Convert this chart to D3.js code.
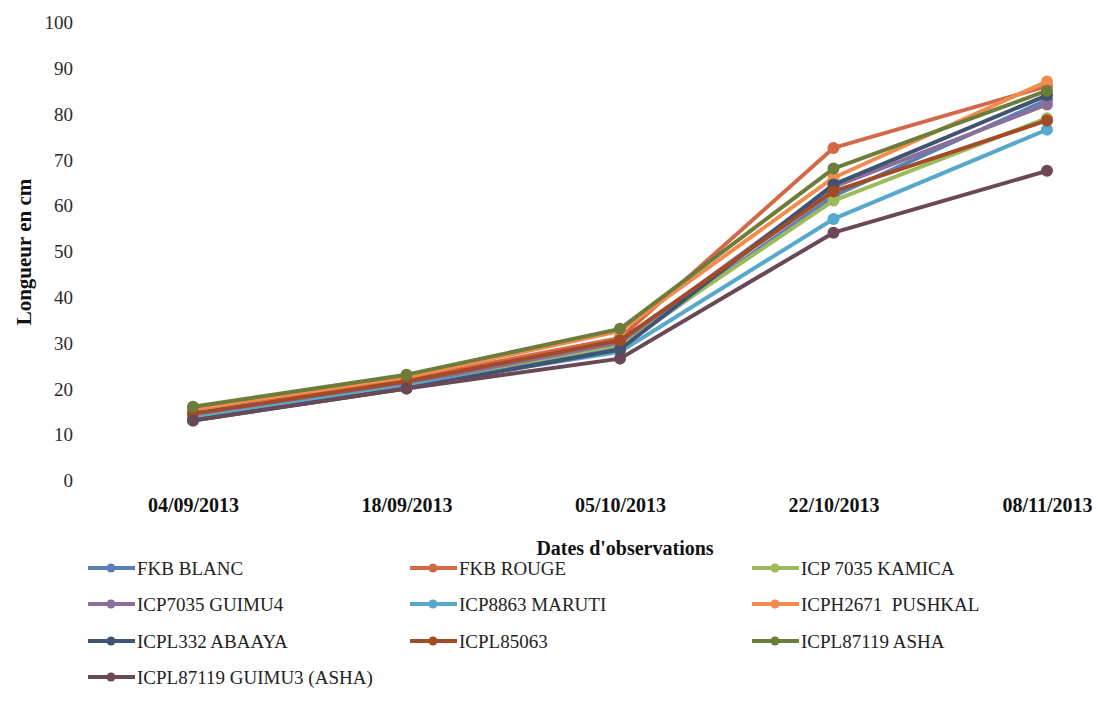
<!DOCTYPE html>
<html>
<head>
<meta charset="utf-8">
<script src="https://cdn.jsdelivr.net/npm/d3@7"></script>
<style>
  html, body { margin: 0; padding: 0; background: #fff; }
  svg { display: block; }
</style>
</head>
<body>
<svg id="chart" width="1098" height="725"></svg>
<script>
// Dates of observation (x categories)
const dates = ["04/09/2013", "18/09/2013", "05/10/2013", "22/10/2013", "08/11/2013"];

// Variety names
const varieties = [
  "FKB BLANC", "FKB ROUGE", "ICP 7035 KAMICA",
  "ICP7035 GUIMU4", "ICP8863 MARUTI", "ICPH2671  PUSHKAL",
  "ICPL332 ABAAYA", "ICPL85063", "ICPL87119 ASHA",
  "ICPL87119 GUIMU3 (ASHA)"
];

// Plant length (cm) per variety at each date
const fkbBlanc   = [14.5, 21.0, 29.0, 62.0, 83.0];
const fkbRouge   = [15.5, 22.0, 31.0, 72.5, 86.0];
const kamica     = [14.0, 21.0, 29.5, 61.0, 79.0];
const guimu4     = [14.0, 21.0, 30.0, 64.0, 82.0];
const maruti     = [13.5, 20.5, 28.0, 57.0, 76.5];
const pushkal    = [15.5, 22.5, 32.5, 66.0, 87.0];
const abaaya     = [13.0, 20.0, 28.5, 64.5, 84.0];
const icpl85063  = [14.5, 21.5, 30.5, 63.0, 78.5];
const asha       = [16.0, 23.0, 33.0, 68.0, 85.0];
const guimu3     = [13.0, 20.0, 26.5, 54.0, 67.5];

const seriesValues = [fkbBlanc, fkbRouge, kamica, guimu4, maruti, pushkal, abaaya, icpl85063, asha, guimu3];

const colors = ["#5b80b8", "#d4694a", "#9dbb5c", "#8a6f98", "#58a8cc",
                "#f28c4c", "#3e5470", "#a24b26", "#6c7c3a", "#6a4856"];

const yTicks = [0, 10, 20, 30, 40, 50, 60, 70, 80, 90, 100];

const SERIF = "'Liberation Serif', 'Times New Roman', Tinos, 'DejaVu Serif', serif";

const svg = d3.select("#chart");

const x = d3.scalePoint().domain(dates).range([193, 1047]);
const y = d3.scaleLinear().domain([0, 100]).range([480, 22]);

// Y axis labels (no axis line)
const yAxis = d3.axisLeft(y).tickValues(yTicks).tickSize(0).tickPadding(0);
svg.append("g")
  .attr("transform", "translate(73,0)")
  .call(yAxis)
  .call(g => g.select(".domain").remove())
  .selectAll("text")
  .style("font-size", "19px")
  .style("font-family", SERIF)
  .attr("dy", "0.35em")
  .style("fill", "#2a2a2a");

// X axis labels (bold)
const xAxis = d3.axisBottom(x).tickSize(0).tickPadding(0);
svg.append("g")
  .attr("transform", "translate(0,498)")
  .call(xAxis)
  .call(g => g.select(".domain").remove())
  .selectAll("text")
  .style("font-size", "20px")
  .style("font-weight", "bold")
  .style("font-family", SERIF)
  .style("fill", "#111");

// Axis titles
svg.append("text")
  .attr("x", 625).attr("y", 555)
  .attr("text-anchor", "middle")
  .style("font-family", SERIF)
  .style("font-size", "20px").style("font-weight", "bold")
  .style("fill", "#111")
  .text("Dates d'observations");

svg.append("text")
  .attr("transform", "translate(31,252) rotate(-90)")
  .attr("text-anchor", "middle")
  .style("font-family", SERIF)
  .style("font-size", "21px").style("font-weight", "bold")
  .style("fill", "#111")
  .text("Longueur en cm");

// Lines and markers
const line = d3.line().x((d, i) => x(dates[i])).y(d => y(d));

seriesValues.forEach((vals, s) => {
  const g = svg.append("g");
  g.append("path")
    .datum(vals)
    .attr("d", line)
    .attr("fill", "none")
    .attr("stroke", colors[s])
    .attr("stroke-width", 4)
    .attr("stroke-linejoin", "round");
  g.selectAll("circle")
    .data(vals)
    .join("circle")
    .attr("cx", (d, i) => x(dates[i]))
    .attr("cy", d => y(d))
    .attr("r", 6)
    .attr("fill", colors[s]);
});

// Legend: three columns
const legendCols = [88, 410, 752];
const legendRows = [568, 604, 641, 677];
varieties.forEach((name, i) => {
  const lx = legendCols[i % 3];
  const ly = legendRows[Math.floor(i / 3)];
  const g = svg.append("g").attr("transform", `translate(${lx},${ly})`);
  g.append("line")
    .attr("x1", 0).attr("x2", 47).attr("y1", 0).attr("y2", 0)
    .attr("stroke", colors[i]).attr("stroke-width", 4);
  g.append("circle").attr("cx", 23).attr("cy", 0).attr("r", 4.5).attr("fill", colors[i]);
  g.append("text")
    .attr("x", 49).attr("y", 0).attr("dy", "0.35em")
    .style("font-family", SERIF)
    .style("font-size", "19px")
    .style("fill", "#222")
    .style("white-space", "pre")
    .text(name);
});
</script>
</body>
</html>
